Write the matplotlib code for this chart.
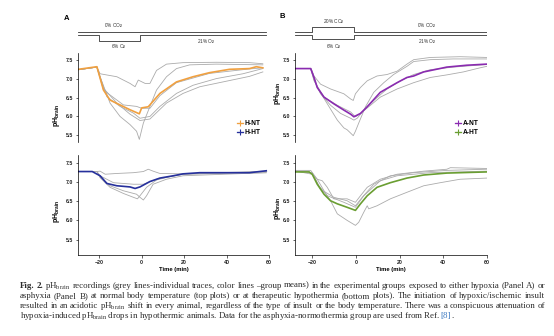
import matplotlib
matplotlib.use("Agg")
import matplotlib.pyplot as plt
from matplotlib.lines import Line2D

W, H = 554, 336

plt.rcParams["font.family"] = ["Liberation Sans", "DejaVu Sans"]
plt.rcParams["mathtext.fontset"] = "custom"
plt.rcParams["mathtext.rm"] = "Liberation Serif"
plt.rcParams["mathtext.it"] = "Liberation Serif:italic"
plt.rcParams["mathtext.bf"] = "Liberation Serif:bold"
plt.rcParams["mathtext.sf"] = "Liberation Sans:bold"

GREY = "#ababab"
C_HNT = "#f0a040"
C_HHT = "#26309c"
C_ANT = "#8a2bb0"
C_AHT = "#6a9e32"
LINK = "#3a78c0"

# ---- Panel A, top: hypoxia normothermia (H-NT) ----
hnt_t = [-29.8, -21.1, -18.0, -14.9, -10.2, -5.5, -1.1, 0.0, 3.1, 8.6, 16.4, 24.2, 32.0, 41.4, 50.8, 54.0, 57.1]
hnt_ph = [7.26, 7.33, 6.70, 6.43, 6.30, 6.17, 6.06, 6.22, 6.25, 6.61, 6.92, 7.06, 7.17, 7.26, 7.28, 7.33, 7.30]
hnt_traces = [
    ([-29.8, -21.1, -19.6, -11.7, -5.5, -3.1, -1.6, 1.6, 3.9, 7.0, 11.7, 19.5, 35.2, 50.8, 57.1],
     [7.25, 7.32, 7.14, 7.06, 6.88, 6.79, 6.97, 6.88, 6.88, 7.23, 7.40, 7.44, 7.45, 7.44, 7.41]),
    ([-29.8, -21.1, -19.6, -14.9, -10.2, -5.5, -2.4, -1.1, 0.8, 3.9, 7.0, 11.7, 16.4, 22.6, 35.2, 57.1],
     [7.25, 7.32, 7.06, 6.35, 5.99, 5.77, 5.59, 5.37, 5.81, 6.26, 6.70, 7.06, 7.28, 7.38, 7.40, 7.38]),
    ([-29.8, -21.1, -16.4, -10.2, -3.9, -0.8, 3.9, 8.6, 16.4, 24.2, 35.2, 47.7, 57.1],
     [7.25, 7.32, 6.52, 6.26, 6.08, 5.94, 5.99, 6.26, 6.61, 6.83, 7.01, 7.14, 7.28]),
    ([-29.8, -21.1, -18.0, -11.7, -5.5, -0.8, 3.9, 11.7, 19.5, 27.4, 38.3, 50.8, 57.1],
     [7.25, 7.32, 6.75, 6.35, 6.05, 5.88, 5.92, 6.35, 6.61, 6.79, 6.92, 7.07, 7.19]),
    ([-29.8, -21.1, -18.0, -8.6, -2.4, 0.0, 3.9, 8.6, 16.4, 32.0, 50.8, 57.1],
     [7.25, 7.32, 6.70, 6.30, 6.26, 6.21, 6.21, 6.55, 6.90, 7.15, 7.27, 7.30]),
]

# ---- Panel A, bottom: hypoxia hypothermia (H-HT) ----
hht_t = [-29.8, -23.3, -19.6, -16.4, -11.7, -5.5, -3.1, -0.8, 3.9, 8.6, 14.9, 19.5, 27.4, 35.2, 50.8, 58.7]
hht_ph = [7.27, 7.27, 7.16, 6.96, 6.90, 6.87, 6.83, 6.87, 7.01, 7.10, 7.16, 7.21, 7.24, 7.24, 7.24, 7.29]
hht_traces = [
    ([-29.8, -21.1, -19.6, -17.2, -11.7, -3.9, 0.8, 3.1, 5.4, 8.6, 19.5, 35.2, 58.7],
     [7.27, 7.27, 7.28, 7.20, 7.22, 7.24, 7.27, 7.33, 7.28, 7.22, 7.21, 7.24, 7.27]),
    ([-29.8, -21.1, -19.6, -14.9, -8.6, -3.9, -2.0, -0.8, 2.3, 7.0, 13.3, 19.5, 58.7],
     [7.27, 7.27, 7.11, 6.86, 6.70, 6.60, 6.56, 6.64, 6.86, 7.05, 7.14, 7.20, 7.24]),
    ([-29.8, -21.1, -19.6, -14.9, -8.6, -2.4, -0.8, 0.8, 2.3, 5.4, 11.7, 19.5, 58.7],
     [7.27, 7.27, 7.13, 6.90, 6.77, 6.68, 6.60, 6.53, 6.64, 6.94, 7.07, 7.16, 7.24]),
    ([-29.8, -21.1, -19.6, -13.3, -3.9, 0.8, 7.0, 19.5, 58.7],
     [7.27, 7.27, 7.16, 6.98, 6.94, 6.94, 7.07, 7.20, 7.27]),
]

# ---- Panel B, top: asphyxia normothermia (A-NT) ----
ant_t = [-27.7, -20.8, -19.3, -17.8, -14.7, -10.2, -5.6, -2.5, -1.0, 2.0, 5.1, 11.1, 18.8, 23.3, 26.4, 31.0, 41.6, 50.7, 59.9]
ant_ph = [7.28, 7.28, 7.04, 6.77, 6.51, 6.33, 6.16, 6.05, 5.98, 6.07, 6.25, 6.64, 6.90, 7.04, 7.08, 7.19, 7.32, 7.37, 7.40]
ant_traces = [
    ([-27.7, -20.8, -19.3, -16.3, -11.7, -5.6, -2.5, -1.3, -0.3, 2.0, 5.1, 9.6, 14.2, 18.8, 23.3, 26.4, 34.0, 47.7, 59.9],
     [7.28, 7.28, 7.08, 6.86, 6.73, 6.60, 6.46, 6.42, 6.60, 6.77, 6.95, 7.08, 7.12, 7.21, 7.40, 7.52, 7.58, 7.60, 7.58]),
    ([-27.7, -20.8, -20.1, -17.8, -13.2, -8.6, -5.6, -4.1, -2.5, -1.3, -0.3, 1.2, 4.3, 8.1, 12.7, 17.2, 23.3, 26.4, 34.0, 44.6, 59.9],
     [7.28, 7.28, 7.21, 6.77, 6.33, 5.89, 5.68, 5.63, 5.54, 5.47, 5.59, 5.81, 6.25, 6.64, 6.90, 7.12, 7.34, 7.47, 7.52, 7.54, 7.54]),
    ([-27.7, -20.8, -19.3, -16.3, -11.7, -7.1, -2.5, -1.0, 0.5, 3.5, 8.1, 14.2, 20.3, 26.4, 34.0, 44.6, 59.9],
     [7.28, 7.28, 6.99, 6.60, 6.29, 6.07, 5.94, 5.89, 5.94, 6.16, 6.42, 6.73, 6.95, 7.12, 7.25, 7.32, 7.39]),
    ([-27.7, -20.8, -19.3, -14.7, -8.6, -2.5, -0.3, 2.0, 6.6, 11.1, 18.8, 26.4, 34.0, 41.6, 49.2, 56.8, 59.9],
     [7.28, 7.28, 6.95, 6.51, 6.29, 6.11, 5.98, 6.07, 6.29, 6.51, 6.73, 6.90, 7.04, 7.11, 7.19, 7.30, 7.34]),
]

# ---- Panel B, bottom: asphyxia hypothermia (A-HT) ----
aht_t = [-27.7, -21.6, -20.1, -17.8, -14.7, -11.7, -8.6, -4.1, -0.3, 2.0, 5.1, 9.6, 15.7, 23.3, 31.0, 41.6, 59.9]
aht_ph = [7.26, 7.26, 7.20, 6.94, 6.68, 6.51, 6.43, 6.34, 6.26, 6.43, 6.64, 6.86, 6.98, 7.10, 7.18, 7.23, 7.26]
aht_traces = [
    ([-27.7, -21.6, -17.8, -14.7, -11.7, -8.6, -4.1, -0.3, 1.2, 3.5, 5.1, 5.8, 9.6, 15.7, 23.3, 31.0, 38.6, 47.7, 59.9],
     [7.28, 7.28, 7.07, 6.77, 6.51, 6.17, 6.00, 5.87, 5.95, 6.21, 6.38, 6.30, 6.38, 6.56, 6.73, 6.90, 6.98, 7.07, 7.10]),
    ([-27.7, -20.8, -17.8, -15.5, -13.2, -10.2, -4.1, -0.3, 2.0, 5.1, 11.1, 18.8, 31.0, 41.6, 43.2, 59.9],
     [7.30, 7.30, 7.07, 7.03, 6.86, 6.56, 6.56, 6.47, 6.64, 6.86, 7.07, 7.20, 7.28, 7.33, 7.37, 7.35]),
    ([-27.7, -20.1, -16.3, -10.2, -4.1, -0.3, 2.8, 8.1, 15.7, 26.4, 41.6, 59.9],
     [7.28, 7.20, 6.81, 6.60, 6.51, 6.38, 6.60, 6.94, 7.16, 7.24, 7.30, 7.33]),
    ([-27.7, -20.1, -17.0, -13.2, -5.6, -0.3, 3.5, 11.1, 18.8, 34.0, 59.9],
     [7.28, 7.24, 6.90, 6.64, 6.47, 6.34, 6.64, 7.03, 7.16, 7.24, 7.28]),
]

PH_TICKS = [5.5, 6.0, 6.5, 7.0, 7.5]
TIME_TICKS = [-20, 0, 20, 40, 60]
INSULT_START, INSULT_END = -20, -1

caption_lines = [
    "Fig. 2. pH$_{\\mathrm{brain}}$ recordings (grey lines-individual traces, color lines \u2013group means) in the experimental groups exposed to either hypoxia (Panel A) or",
    "asphyxia (Panel B) at normal body temperature (top plots) or at therapeutic hypothermia (bottom plots). The initiation of hypoxic/ischemic insult",
    "resulted in an acidotic pH$_{\\mathrm{brain}}$ shift in every animal, regardless of the type of insult or the body temperature. There was a conspicuous attenuation of",
    "hypoxia-induced pH$_{\\mathrm{brain}}$ drops in hypothermic animals. Data for the asphyxia-normothermia group are used from Ref. ",
]


def px_axes(fig, left, top, right, bottom):
    return fig.add_axes([left / W, 1 - bottom / H, (right - left) / W, (bottom - top) / H])


def draw_plot(ax, traces, mean_t, mean_ph, color, xlim, ylim, bottom, label_y, label_x):
    for t, ph in traces:
        ax.plot(t, ph, color=GREY, linewidth=0.6)
    ax.plot(mean_t, mean_ph, color=color, linewidth=1.2)
    ax.set_xlim(xlim)
    ax.set_ylim(ylim)
    ax.set_yticks(PH_TICKS)
    ax.set_yticklabels([f"{v:.1f}" for v in PH_TICKS])
    ax.spines["top"].set_visible(False)
    ax.spines["right"].set_visible(False)
    for sp in ax.spines.values():
        sp.set_linewidth(0.5)
    ax.tick_params(labelsize=3.8, length=1.8, width=0.5, pad=1.5, colors="#222222")
    for lab in ax.get_yticklabels() + ax.get_xticklabels():
        lab.set_fontweight("bold")
    ax.set_ylabel(r"$\mathsf{pH_{brain}}$", fontsize=5)
    ax.yaxis.set_label_coords(label_x, label_y)
    if bottom:
        ax.set_xticks(TIME_TICKS)
        ax.set_xlabel("Time (min)", fontsize=4.2, fontweight="bold", labelpad=1.5)
        for lab in ax.get_xticklabels():
            lab.set_fontweight("bold")
    else:
        ax.spines["bottom"].set_visible(False)
        ax.set_xticks([])


def draw_legend(ax, labels, colors):
    handles = [Line2D([], [], color=c, linewidth=0.9, marker="+", markersize=4.5, markeredgewidth=0.8)
               for c in colors]
    ax.legend(handles, labels, loc="lower right", bbox_to_anchor=(0.98, 0.01), frameon=False,
              prop={"weight": "bold", "size": 4.8}, handlelength=0.9,
              handletextpad=0.2, labelspacing=0.3, borderaxespad=0.3)


def draw_schematic(ax, xlim, co2_line, o2_line, labels):
    ax.set_xlim(xlim)
    ax.set_ylim(50, 12)
    ax.axis("off")
    ax.plot(co2_line[0], co2_line[1], color="#333333", linewidth=0.6)
    ax.plot(o2_line[0], o2_line[1], color="#333333", linewidth=0.6)
    for x, y, s in labels:
        ax.text(x, y, s, fontsize=3.4, ha="center", va="center", color="#333333")


fig = plt.figure(figsize=(W / 100, H / 100), dpi=100)

xlim_a = (-30, 60)
xlim_b = (-28, 60)

ax_a1 = px_axes(fig, 78, 53, 269, 142)
draw_plot(ax_a1, hnt_traces, hnt_t, hnt_ph, C_HNT, xlim_a, (5.3, 7.7), False, 0.30, -16 / 191)
ax_a2 = px_axes(fig, 78, 155, 269, 255)
draw_plot(ax_a2, hht_traces, hht_t, hht_ph, C_HHT, xlim_a, (5.1, 7.7), True, 0.44, -16 / 191)
draw_legend(ax_a1, ["H-NT", "H-HT"], [C_HNT, C_HHT])

ax_b1 = px_axes(fig, 295, 53, 487, 142)
draw_plot(ax_b1, ant_traces, ant_t, ant_ph, C_ANT, xlim_b, (5.3, 7.7), False, 0.55, -12 / 192)
ax_b2 = px_axes(fig, 295, 155, 487, 255)
draw_plot(ax_b2, aht_traces, aht_t, aht_ph, C_AHT, xlim_b, (5.1, 7.7), True, 0.47, -12 / 192)
draw_legend(ax_b1, ["A-NT", "A-HT"], [C_ANT, C_AHT])

# gas protocol schematics (y in pixel rows)
sa = px_axes(fig, 78, 12, 269, 50)
draw_schematic(
    sa, xlim_a,
    ([-30, 58.5], [32, 32]),
    ([-30, INSULT_START, INSULT_START, INSULT_END, INSULT_END, 58.5], [34.5, 34.5, 41, 41, 34.5, 34.5]),
    [(-13.5, 26, "0% CO$_{\\mathsf{2}}$"), (-11, 46.5, "6% O$_{\\mathsf{2}}$"), (30.5, 41.5, "21% O$_{\\mathsf{2}}$")],
)
sb = px_axes(fig, 295, 12, 487, 50)
draw_schematic(
    sb, xlim_b,
    ([-28, INSULT_START, INSULT_START, INSULT_END, INSULT_END, 60], [32, 32, 27.3, 27.3, 32, 32]),
    ([-28, INSULT_START, INSULT_START, INSULT_END, INSULT_END, 60], [34.5, 34.5, 39.3, 39.3, 34.5, 34.5]),
    [(-10.3, 22, "20% CO$_{\\mathsf{2}}$"), (-10.3, 46.5, "6% O$_{\\mathsf{2}}$"),
     (32.5, 26, "0% CO$_{\\mathsf{2}}$"), (32.5, 41.5, "21% O$_{\\mathsf{2}}$")],
)

fig.text(67 / W, 1 - 19 / H, "A", fontsize=5.5, fontweight="bold", ha="center", va="center")
fig.text(282 / W, 1 - 17 / H, "B", fontsize=5.5, fontweight="bold", ha="center", va="center")

# caption, justified for the first three lines
CAP_SIZE = 6.4
CAP_LEFT, CAP_RIGHT = 20, 545
cap_base = [287.5, 297.8, 308.1, 318.4]
cap_color = "#2a2a2a"
fig.canvas.draw()
renderer = fig.canvas.get_renderer()
for i, line in enumerate(caption_lines):
    y = 1 - cap_base[i] / H
    if i < 3:
        words = line.split(" ")
        texts = []
        for j, w in enumerate(words):
            bold = i == 0 and j < 2
            texts.append(fig.text(0, y, w, fontsize=CAP_SIZE, family="Liberation Serif",
                                  fontweight="bold" if bold else "normal", color=cap_color, va="baseline"))
        widths = [t.get_window_extent(renderer).width for t in texts]
        gap = (CAP_RIGHT - CAP_LEFT - sum(widths)) / (len(words) - 1)
        x = CAP_LEFT
        for t, wd in zip(texts, widths):
            t.set_x(x / W)
            x += wd + gap
    else:
        t = fig.text(CAP_LEFT / W, y, line, fontsize=CAP_SIZE, family="Liberation Serif",
                     color=cap_color, va="baseline")
        x = CAP_LEFT + t.get_window_extent(renderer).width
        ref = fig.text(x / W, y, "[8]", fontsize=CAP_SIZE, family="Liberation Serif",
                       color=LINK, va="baseline")
        x += ref.get_window_extent(renderer).width
        fig.text(x / W, y, ".", fontsize=CAP_SIZE, family="Liberation Serif",
                 color=cap_color, va="baseline")

fig.savefig("out.png", dpi=100)
